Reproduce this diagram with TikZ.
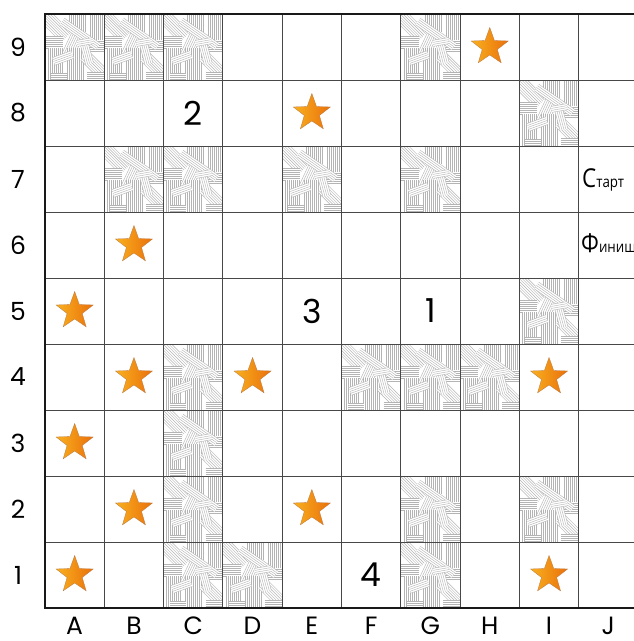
\documentclass[tikz,border=0pt]{standalone}
\usepackage{fontspec}
\setmainfont{Poppins}
\newfontfamily\cyrfont[FakeStretch=0.86]{Open Sans}
\usetikzlibrary{shapes.geometric}
\definecolor{starL}{RGB}{248,176,30}
\definecolor{starR}{RGB}{234,112,12}
\definecolor{hatchcol}{RGB}{180,180,180}
\tikzset{
  starnode/.style={star, star points=5, star point ratio=2.45, minimum size=39pt,
    inner sep=0pt, left color=starL, right color=starR, draw=starR!55!gray, line width=0.3pt},
  gridnum/.style={inner sep=0pt, font=\fontsize{33}{33}\selectfont},
  axislabel/.style={inner sep=0pt, font=\fontsize{25}{25}\selectfont},
  gridline/.style={draw=black!72, line width=0.9pt},
  borderline/.style={draw=black!90, line width=2pt},
  hatchline/.style={draw=hatchcol, line width=0.42pt},
}
\newcommand{\hatchcell}[2]{%
  \begin{scope}[shift={({45+59.3*#1},{14+66*(9-#2)})}]
    \clip (0,0) rectangle (59.3,66);
    \fill[white] (0,0) rectangle (59.3,66);
    \foreach \cx/\cy/\ang/\w/\n in {
      10/12/-45/16/7, 32/8/90/10/8, 52/12/90/14/7, 8/28/0/10/6,
      50/32/0/12/5, 28/30/65/12/6, 35/20/-35/22/4, 10/50/90/16/7,
      30/50/90/16/8, 18/44/20/10/4, 50/52/-45/14/6, 52/62/0/10/4,
      42/40/-75/10/4, 14/62/0/8/3, 40/28/10/8/3} {
      \begin{scope}[shift={(\cx,\cy)}, rotate=\ang]
        \fill[white] (-\w,-\n) rectangle (\w,\n);
        \foreach \k in {0,...,\n} {
          \draw[hatchline] (-\w,{2*\k-\n}) -- (\w,{2*\k-\n});
        }
      \end{scope}
    }
  \end{scope}%
}
\begin{document}
\begin{tikzpicture}[x=1pt,y=-1pt]
  \useasboundingbox (0,0) rectangle (633,641);
  \fill[white] (0,0) rectangle (633,641);
  % hatched cells
  \foreach \i/\r in {0/9,1/9,2/9,6/9, 8/8, 1/7,2/7,4/7,6/7, 8/5,
                     2/4,5/4,6/4,7/4, 2/3, 2/2,6/2,8/2, 2/1,3/1,6/1} {
    \hatchcell{\i}{\r}
  }
  % inner grid lines
  \foreach \i in {1,...,9} {
    \draw[gridline] ({45+59.3*\i},14) -- ({45+59.3*\i},608);
  }
  \foreach \j in {1,...,8} {
    \draw[gridline] (45,{14+66*\j}) -- (640,{14+66*\j});
  }
  % border
  \draw[borderline] (640,14) -- (45,14) -- (45,608) -- (640,608);
  % stars
  \foreach \i/\r in {7/9, 4/8, 1/6, 0/5, 1/4,3/4,8/4, 0/3, 1/2,4/2, 0/1,8/1} {
    \node[starnode] (star\i\r) at ({45+59.3*(\i+0.5)},{14+66*(9-\r)+33}) {};
  }
  % numbers
  \node[gridnum] (n2) at ({45+59.3*2.5},{14+66*1+33}) {2};
  \node[gridnum] (n3) at ({45+59.3*4.5},{14+66*4+33}) {3};
  \node[gridnum] (n1) at ({45+59.3*6.5},{14+66*4+33}) {1};
  \node[gridnum] (n4) at ({45+59.3*5.5},{14+66*8+33}) {4};
  % row labels
  \foreach \r in {1,...,9} {
    \node[axislabel] (row\r) at (18,{14+66*(9-\r)+33}) {\r};
  }
  % column labels
  \foreach \c [count=\i from 0] in {A,B,C,D,E,F,G,H,I,J} {
    \node[axislabel, anchor=base] (col\c) at ({45+59.3*(\i+0.5)},634) {\c};
  }
  % start / finish
  \node[anchor=base west, inner sep=0pt] (start) at (582,187)
    {\cyrfont\fontsize{26}{26}\selectfont С\fontsize{15.5}{15.5}\selectfont тарт};
  \node[anchor=base west, inner sep=0pt] (finish) at (581,252)
    {\cyrfont\fontsize{26}{26}\selectfont Ф\fontsize{15.5}{15.5}\selectfont иниш};
\end{tikzpicture}
\end{document}
